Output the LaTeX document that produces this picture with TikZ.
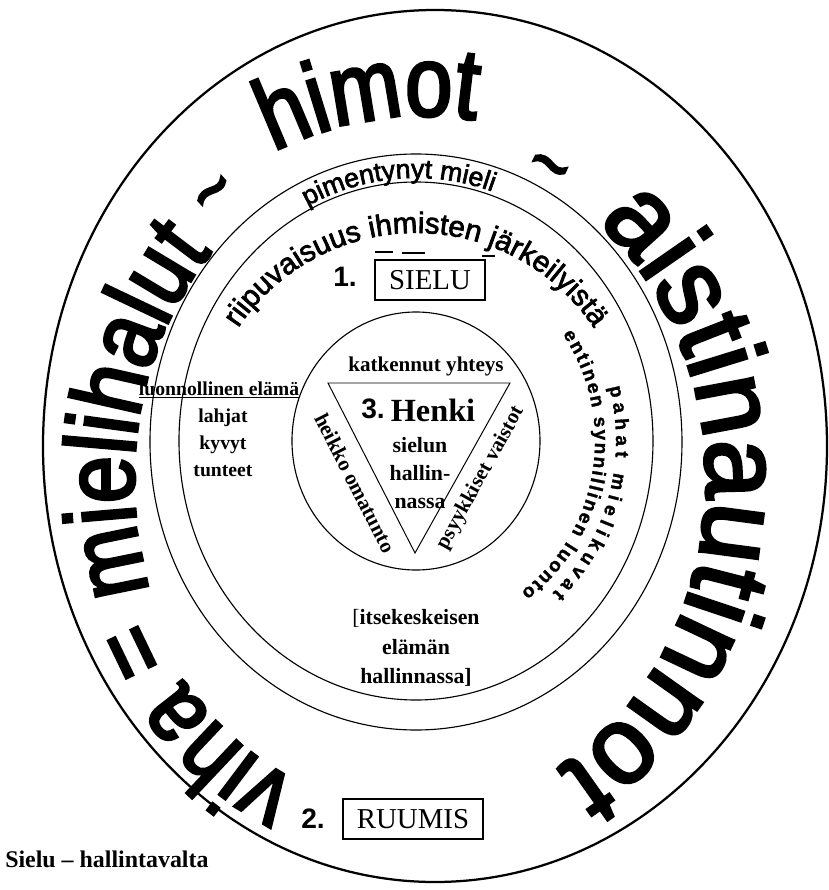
\documentclass[tikz,border=0pt]{standalone}
\usepackage{fontspec}
\setmainfont{Liberation Serif}
\setsansfont{Liberation Sans}
\newfontfamily\ringfont[FakeStretch=0.85, FakeBold=3]{Liberation Sans}
\newfontfamily\wideringfont[FakeStretch=0.97, FakeBold=3]{Liberation Sans}
\newfontfamily\heavysans[FakeBold=2.4]{Liberation Sans}
\newfontfamily\spacedsans[FakeBold=1.5]{Liberation Sans Bold}
\usetikzlibrary{decorations.text}

% font sizes for the ring texts
\newcommand{\bigring}{\ringfont\fontsize{71}{71}\selectfont}
\newcommand{\widering}{\wideringfont\fontsize{78}{78}\selectfont}
\newcommand{\tildering}{\ringfont\fontsize{56}{56}\selectfont}
\newcommand{\midsans}{\heavysans\fontsize{21}{21}\selectfont}
\newcommand{\smallsans}{\heavysans\fontsize{19}{19}\selectfont}
\newcommand{\tinysans}{\spacedsans\fontsize{13.5}{13.5}\selectfont}

\begin{document}
\begin{tikzpicture}[
  x=0.025cm, y=0.025cm,
  ring/.style={line width=0.8pt},
  tri/.style={line width=0.7pt},
  say/.style={font=\bfseries\fontsize{15}{20}\selectfont, align=center, inner sep=0pt},
  num/.style={font=\sffamily\bfseries\fontsize{20}{20}\selectfont, inner sep=0pt},
  namebox/.style={draw, line width=1.3pt, font=\fontsize{20.5}{20.5}\selectfont, inner xsep=10pt, minimum height=28pt},
  along/.style={decorate, decoration={text along path, text align=center, text={#1}}},
  spread/.style={decorate, decoration={text along path, text align={fit to path}, text={#1}}}
]
\useasboundingbox (-416,-448) rectangle (413,442);

% rings
\coordinate (c) at (0,0);
\coordinate (o) at (19,-4);
\coordinate (t) at (0,-38);
\draw[line width=1.6pt] (o) ellipse [x radius=392, y radius=436];
\draw[ring] (c) ellipse [x radius=266, y radius=288];
\draw[ring] (0,1) ellipse [x radius=237, y radius=259];
\draw[ring] (0,1) ellipse [x radius=124, y radius=129];

% outer words
\path[along={|\bigring|viha}] (t) ++(275:292 and 330) arc[start angle=275, end angle=191, x radius=292, y radius=330];
\path[along={|\bigring|=}] (t) ++(229:290 and 330) arc[start angle=229, end angle=189, x radius=290, y radius=330];
\path[along={|\bigring|mielihalut}] (t) ++(230:282 and 330) arc[start angle=230, end angle=104, x radius=282, y radius=330];
\path[along={|\tildering|{\textasciitilde}}] (t) ++(148:300 and 345) arc[start angle=148, end angle=108, x radius=300, y radius=345];
\path[along={|\bigring|himot}] (8,-6) ++(155:332) arc[start angle=155, end angle=43, radius=332];
\path[along={|\tildering|{\textasciitilde}}] (t) ++(86:300 and 320) arc[start angle=86, end angle=46, x radius=300, y radius=320];
\path[along={|\widering|aistinautinnot}] (t) ++(80:290 and 330) arc[start angle=80, end angle=-90, x radius=290, y radius=330];

% ring texts
\path[along={|\smallsans|pimentynyt mieli}] (0,1) ++(144:241 and 263) arc[start angle=144, end angle=44, x radius=241, y radius=263];
\path[along={|\midsans|riipuvaisuus ihmisten järkeilyistä}] (c) ++(170:212 and 209) arc[start angle=170, end angle=10, x radius=212, y radius=209];
\path[spread={|\tinysans|pahat mielikuvat}] (0,1) ++(15:200 and 208) arc[start angle=15, end angle=-47, x radius=200, y radius=208];
\path[spread={|\tinysans|entinen synnillinen luonto}] (0,1) ++(35:179 and 186) arc[start angle=35, end angle=-54, x radius=179, y radius=186];
\draw[line width=0.9pt] (-41,190) -- (-23,190) (-14,189) -- (9,189) (66,186) -- (79,186);

% soul
\node[num] (n1) at (-71,165) {1.};
\node[namebox] (sielu) at (14,162) {SIELU};
\node[say, font=\bfseries\fontsize{14}{19}\selectfont] (luonto) at (-197,52) {\underline{luonnollinen elämä}};
\node[say, font=\bfseries\fontsize{14}{19}\selectfont] (lahjat) at (-193,-1) {lahjat\\kyvyt\\tunteet};
\node[say, font=\bfseries\fontsize{15.5}{21}\selectfont] (itse) at (0,-206) {{\mdseries[}itsekeskeisen\\elämän\\hallinnassa]};

% spirit
\coordinate (tl) at (-88,59);
\coordinate (tr) at (94,59);
\coordinate (tb) at (-1,-111);
\draw[tri] (tl) -- (tr) -- (tb) -- cycle;
\node[say] (yhteys) at (10,76) {katkennut yhteys};
\node[num] (n3) at (-43,33) {3.};
\node[font=\bfseries\fontsize{23}{23}\selectfont, inner sep=0pt] (henki) at (17,32) {Henki};
\node[say, font=\bfseries\fontsize{15.5}{20}\selectfont] (sielun) at (4,-31) {sielun\\hallin-\\nassa};
\node[say, rotate=-63] (omatunto) at (-61,-41) {heikko omatunto};
\node[say, rotate=61] (vaistot) at (65,-36) {psyykkiset vaistot};

% body
\node[num] (n2) at (-103,-377) {2.};
\node[namebox] (ruumis) at (-3,-377) {RUUMIS};
\node[say, anchor=west, font=\bfseries\fontsize{17}{17}\selectfont] (valta) at (-411,-417) {Sielu – hallintavalta};
\end{tikzpicture}
\end{document}
